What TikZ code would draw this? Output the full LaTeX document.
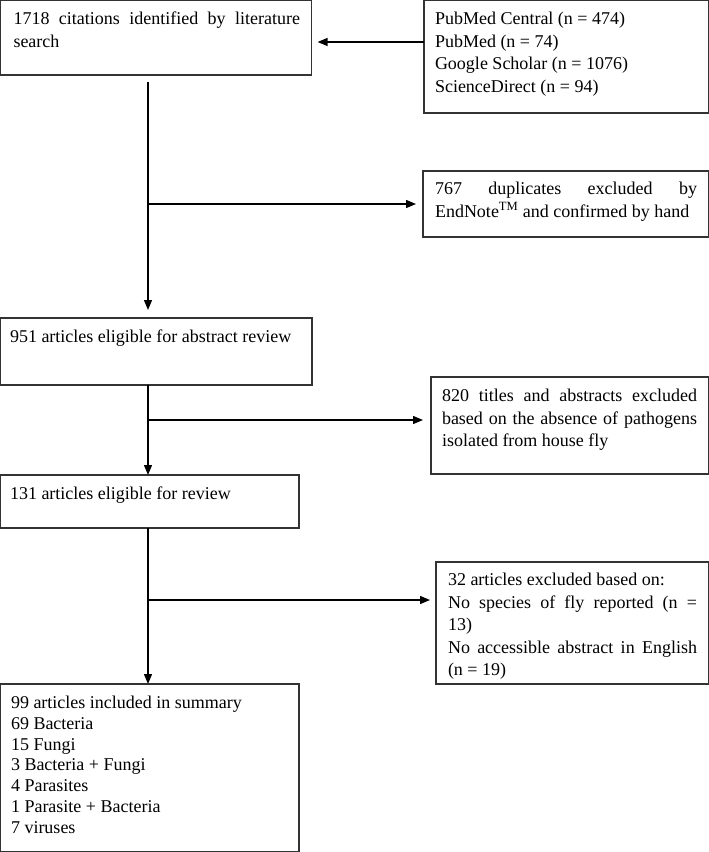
\documentclass[tikz,border=0pt]{standalone}
\usepackage{fontspec}
\setmainfont{Liberation Serif}
\usetikzlibrary{arrows.meta}
\newcommand\jline[2]{\makebox[#1][s]{\spaceskip=0pt\xspaceskip=0pt\relax #2}}
\begin{document}
\begin{tikzpicture}[x=1pt,y=-1pt,
  box/.style={draw=black!80, line width=1.1pt, anchor=north west, inner sep=0pt, outer sep=0pt},
  txt/.style={anchor=base west, inner sep=0pt, outer sep=0pt, align=left, font=\fontsize{18}{22.6}\selectfont,
    execute at begin node={\spaceskip=0pt\xspaceskip=0pt\relax}},
  arr/.style={draw=black, line width=1.3pt, -{Triangle[length=10pt,width=8pt]}}]
\useasboundingbox (0,0) rectangle (709,852);
% boxes
\node[box, minimum width=311, minimum height=74.4] (b1) at (0.6,0.6) {};
\node[box, minimum width=284.4, minimum height=112.4] (b2) at (424,0.6) {};
\node[box, minimum width=285.4, minimum height=66] (b4) at (423,171) {};
\node[box, minimum width=311.4, minimum height=67] (b3) at (0.6,318) {};
\node[box, minimum width=277.4, minimum height=97] (b6) at (431,377) {};
\node[box, minimum width=298.4, minimum height=53] (b5) at (0.6,475) {};
\node[box, minimum width=272.4, minimum height=122] (b7) at (436,562) {};
\node[box, minimum width=298.4, minimum height=167.4] (b8) at (0.6,684) {};
% texts
\node[txt, text width=290] (t1) at (13.5,24.5) {\jline{286.5pt}{1718 citations identified by literature}\\search};
\node[txt, text width=270] (t2) at (435,24.5) {PubMed Central (n = 474)\\PubMed (n = 74)\\Google Scholar (n = 1076)\\ScienceDirect (n = 94)};
\node[txt, text width=270] (t4) at (435,194.5) {\jline{262pt}{767 duplicates excluded by}\\EndNote\textsuperscript{TM} and confirmed by hand};
\node[txt, text width=295] (t3) at (10,342.5) {951 articles eligible for abstract review};
\node[txt, text width=262] (t6) at (442,401.5) {\jline{255pt}{820 titles and abstracts excluded}\\\jline{255pt}{based on the absence of pathogens}\\isolated from house fly};
\node[txt, text width=258] (t5) at (10,499.5) {131 articles eligible for review};
\node[txt, text width=258] (t7) at (448,585.5) {32 articles excluded based on:\\\jline{249pt}{No species of fly reported (n =}\\13)\\\jline{249pt}{No accessible abstract in English}\\(n = 19)};
\node[txt, text width=285, font=\fontsize{18}{20.8}\selectfont] (t8) at (11,708.5) {99 articles included in summary\\69 Bacteria\\15 Fungi\\3 Bacteria + Fungi\\4 Parasites\\1 Parasite + Bacteria\\7 viruses};
% junctions
\coordinate (j1) at (148,204);
\coordinate (j2) at (148,420);
\coordinate (j3) at (148,600);
% connectors
\draw[arr, shorten >=6pt] (b2.west |- 0,42) -- (b1.east |- 0,42);
\draw[arr, shorten <=7pt, shorten >=8pt] (b1.south -| 148,0) -- (b3.north -| 148,0);
\draw[arr, shorten >=7pt] (j1) -- (b4.west |- j1);
\draw[arr] (b3.south -| 148,0) -- (b5.north -| 148,0);
\draw[arr, shorten >=8pt] (j2) -- (b6.west |- j2);
\draw[arr] (b5.south -| 148,0) -- (b8.north -| 148,0);
\draw[arr, shorten >=6pt] (j3) -- (b7.west |- j3);
\end{tikzpicture}
\end{document}
